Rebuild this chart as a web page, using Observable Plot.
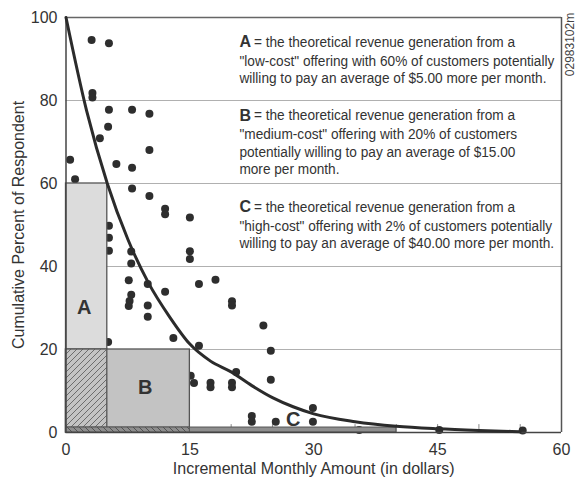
<!DOCTYPE html>
<html><head><meta charset="utf-8">
<script src="https://cdn.jsdelivr.net/npm/d3@7"></script>
<script src="https://cdn.jsdelivr.net/npm/@observablehq/plot@0.6"></script>
<style>
html,body{margin:0;padding:0;background:#fff;}
</style></head><body><div id="chart"></div>
<script>
// Respondents (x = incremental monthly amount, y = cumulative percent)
const respX = [0.5,1.1,3.1,5.2,3.2,3.2,5.2,8.0,10.1,5.1,4.1,10.1,6.1,8.0,8.0,10.1,12.0,12.0,15.0,5.2,5.2,5.2,7.9,7.9,15.0,15.0,7.6,9.9,12.0,7.9,7.7,7.6,9.9,9.9,13.0,5.1,16.1,18.1,16.1,20.1,20.1,23.9,24.8,24.8,20.6,15.1,15.5,17.5,17.5,20.1,20.1,22.5,22.5,25.4,29.9,29.9,35.5,45.2,55.3];
const respY = [65.7,61.0,94.6,93.8,81.8,80.7,77.8,77.8,76.8,73.7,70.9,68.1,64.7,63.8,58.8,57.0,53.9,52.6,51.8,49.8,46.9,43.8,43.6,40.7,43.7,41.8,36.7,35.8,33.9,33.2,31.7,30.5,30.6,27.9,22.8,21.8,35.8,36.8,20.9,31.6,30.6,25.8,19.7,12.7,14.6,13.7,11.9,12.0,10.9,12.0,10.9,4.0,2.6,2.6,5.9,2.6,0.6,0.6,0.5];
// Fitted curve
const curveX = [0,2.5,5,7.5,10,12.5,15,17.5,20,22.5,25,27.5,30,35,40,45,50,55];
const curveY = [100,77.5,60,46.5,36,28,21.3,17.2,14.6,11.3,8.4,6.2,4.5,2.6,1.5,0.9,0.5,0.2];
// Offerings (rectangles)
const offerNames = ["A","B","C"];
const offerPrice = [5,15,40];
const offerShare = [60,20,1.2];
const offerFill = ["#dcdcdc","#c3c3c3","#8e8e8e"];
const letterX = [2.2,9.6,27.5];
const letterY = [30,10.8,3.2];
// Axes
const xTicks = [0,15,30,45,60];
const yTicks = [0,20,40,60,80,100];
const minorTicks = [5,10,20,25,35,40,45,50,55];
const gridY = [20,40,60,80];
const xTitle = "Incremental Monthly Amount (in dollars)";
const yTitle = "Cumulative Percent of Respondent";
const codeLabel = "02983102m";
// Notes
const noteFirst = [
  "= the theoretical revenue generation from a",
  "= the theoretical revenue generation from a",
  "= the theoretical revenue generation from a"
];
const noteRest = [
  "\"low-cost\" offering with 60% of customers potentially\nwilling to pay an average of $5.00 more per month.",
  "\"medium-cost\" offering with 20% of customers\npotentially willing to pay an average of $15.00\nmore per month.",
  "\"high-cost\" offering with 2% of customers potentially\nwilling to pay an average of $40.00 more per month."
];
const noteX = 21;
const noteY = [94.1, 76.4, 54.3];

const dots = respX.map((x,i)=>({x, y: respY[i]}));
const curve = curveX.map((x,i)=>({x, y: curveY[i]}));
const offers = offerNames.map((n,i)=>({n, x2: offerPrice[i], y2: offerShare[i], fill: offerFill[i], lx: letterX[i], ly: letterY[i]}));
const notes = offerNames.map((n,i)=>({n, first: noteFirst[i], rest: noteRest[i], y: noteY[i]}));

const font = "'Liberation Sans', Arial, sans-serif";

const svg = Plot.plot({
  width: 576, height: 483,
  marginLeft: 65.5, marginRight: 15, marginTop: 17, marginBottom: 51,
  style: {fontFamily: font, fontSize: "16px", color: "#333", background: "#fff"},
  x: {domain: [0,60]},
  y: {domain: [0,100]},
  marks: [
    Plot.ruleY(gridY, {stroke: "#b0b0b0", strokeWidth: 1.2}),
    Plot.ruleX(minorTicks, {x: d=>d, y1: 0, y2: 1.9, stroke: "#888"}),
    Plot.dot(dots, {x: "x", y: "y", r: 4, fill: "#2e2e2e", stroke: "none"}),
    Plot.rectY([offers[0]], {x1: 0, x2: "x2", y1: 0, y2: "y2", fill: "fill", stroke: "#555", strokeWidth: 1.3}),
    Plot.rectY([offers[1]], {x1: 0, x2: "x2", y1: 0, y2: "y2", fill: "fill", stroke: "#555", strokeWidth: 1.3}),
    Plot.rectY([offers[0]], {x1: 0, x2: "x2", y1: 0, y2: offers[1].y2, fill: "url(#hatchA)", stroke: "#555", strokeWidth: 1.3}),
    Plot.rectY([offers[2]], {x1: 0, x2: "x2", y1: 0, y2: "y2", fill: "fill", stroke: "#555", strokeWidth: 1}),
    Plot.rectY([offers[1]], {x1: 0, x2: "x2", y1: 0, y2: offers[2].y2, fill: "url(#hatchC)", stroke: "#555", strokeWidth: 1}),
    Plot.ruleY([100], {stroke: "#666", strokeWidth: 1.5}),
    Plot.ruleX([60], {stroke: "#555", strokeWidth: 1.5}),
    Plot.ruleX([0], {stroke: "#444", strokeWidth: 1.5}),
    Plot.ruleY([0], {stroke: "#444", strokeWidth: 1.5}),
    Plot.line(curve, {x: "x", y: "y", curve: "monotone-x", stroke: "#2b2b2b", strokeWidth: 3}),
    Plot.text(offers, {x: "lx", y: "ly", text: "n", fontWeight: "bold", fontSize: 20, fill: "#333"}),
    Plot.axisY({ticks: yTicks, tickSize: 0, tickPadding: 8.5, label: null, fill: "#333"}),
    Plot.axisX({ticks: xTicks, tickSize: 0, tickPadding: 11, label: null, fill: "#333"}),
    Plot.text([yTitle], {frameAnchor: "left", textAnchor: "middle", dx: -47.5, rotate: -90, fontSize: 16, fill: "#333"}),
    Plot.text([xTitle], {frameAnchor: "bottom", textAnchor: "middle", dy: 36, lineAnchor: "middle", fontSize: 16, fill: "#333"}),
    Plot.text([codeLabel], {frameAnchor: "top-right", textAnchor: "middle", dx: 4, dy: 27, rotate: -90, fontSize: 12, fill: "#444"}),
    Plot.text(notes, {x: noteX, y: "y", text: "n", textAnchor: "start", lineAnchor: "middle", fontWeight: "bold", fontSize: 16, fill: "#333"}),
    Plot.text(notes, {x: noteX, y: "y", text: "first", textAnchor: "start", lineAnchor: "middle", dx: 14.5, fontSize: 15, fill: "#333"}),
    Plot.text(notes, {x: noteX, y: "y", text: "rest", textAnchor: "start", lineAnchor: "top", dy: 11.5, lineHeight: 1.16, fontSize: 15, fill: "#333"})
  ]
});

const ns = "http://www.w3.org/2000/svg";
const defs = document.createElementNS(ns, "defs");
defs.innerHTML = `
<pattern id="hatchA" patternUnits="userSpaceOnUse" width="6" height="6">
  <rect width="6" height="6" fill="#c3c3c3"/>
  <path d="M-1,1 l2,-2 M0,6 l6,-6 M5,7 l2,-2" stroke="#555" stroke-width="0.8"/>
</pattern>
<pattern id="hatchC" patternUnits="userSpaceOnUse" width="6" height="6">
  <rect width="6" height="6" fill="#8e8e8e"/>
  <path d="M-1,5 l2,2 M0,0 l6,6 M5,-1 l2,2" stroke="#444" stroke-width="0.8"/>
</pattern>`;
svg.insertBefore(defs, svg.firstChild);
document.getElementById("chart").appendChild(svg);

// Condense the note text horizontally (reference uses a condensed face)
const condense = 0.91;
svg.querySelectorAll('g[font-size="15"] text').forEach(t => {
  const tr = t.getAttribute("transform") || "";
  t.setAttribute("transform", tr + ` scale(${condense},1)`);
});
</script>
</body></html>
